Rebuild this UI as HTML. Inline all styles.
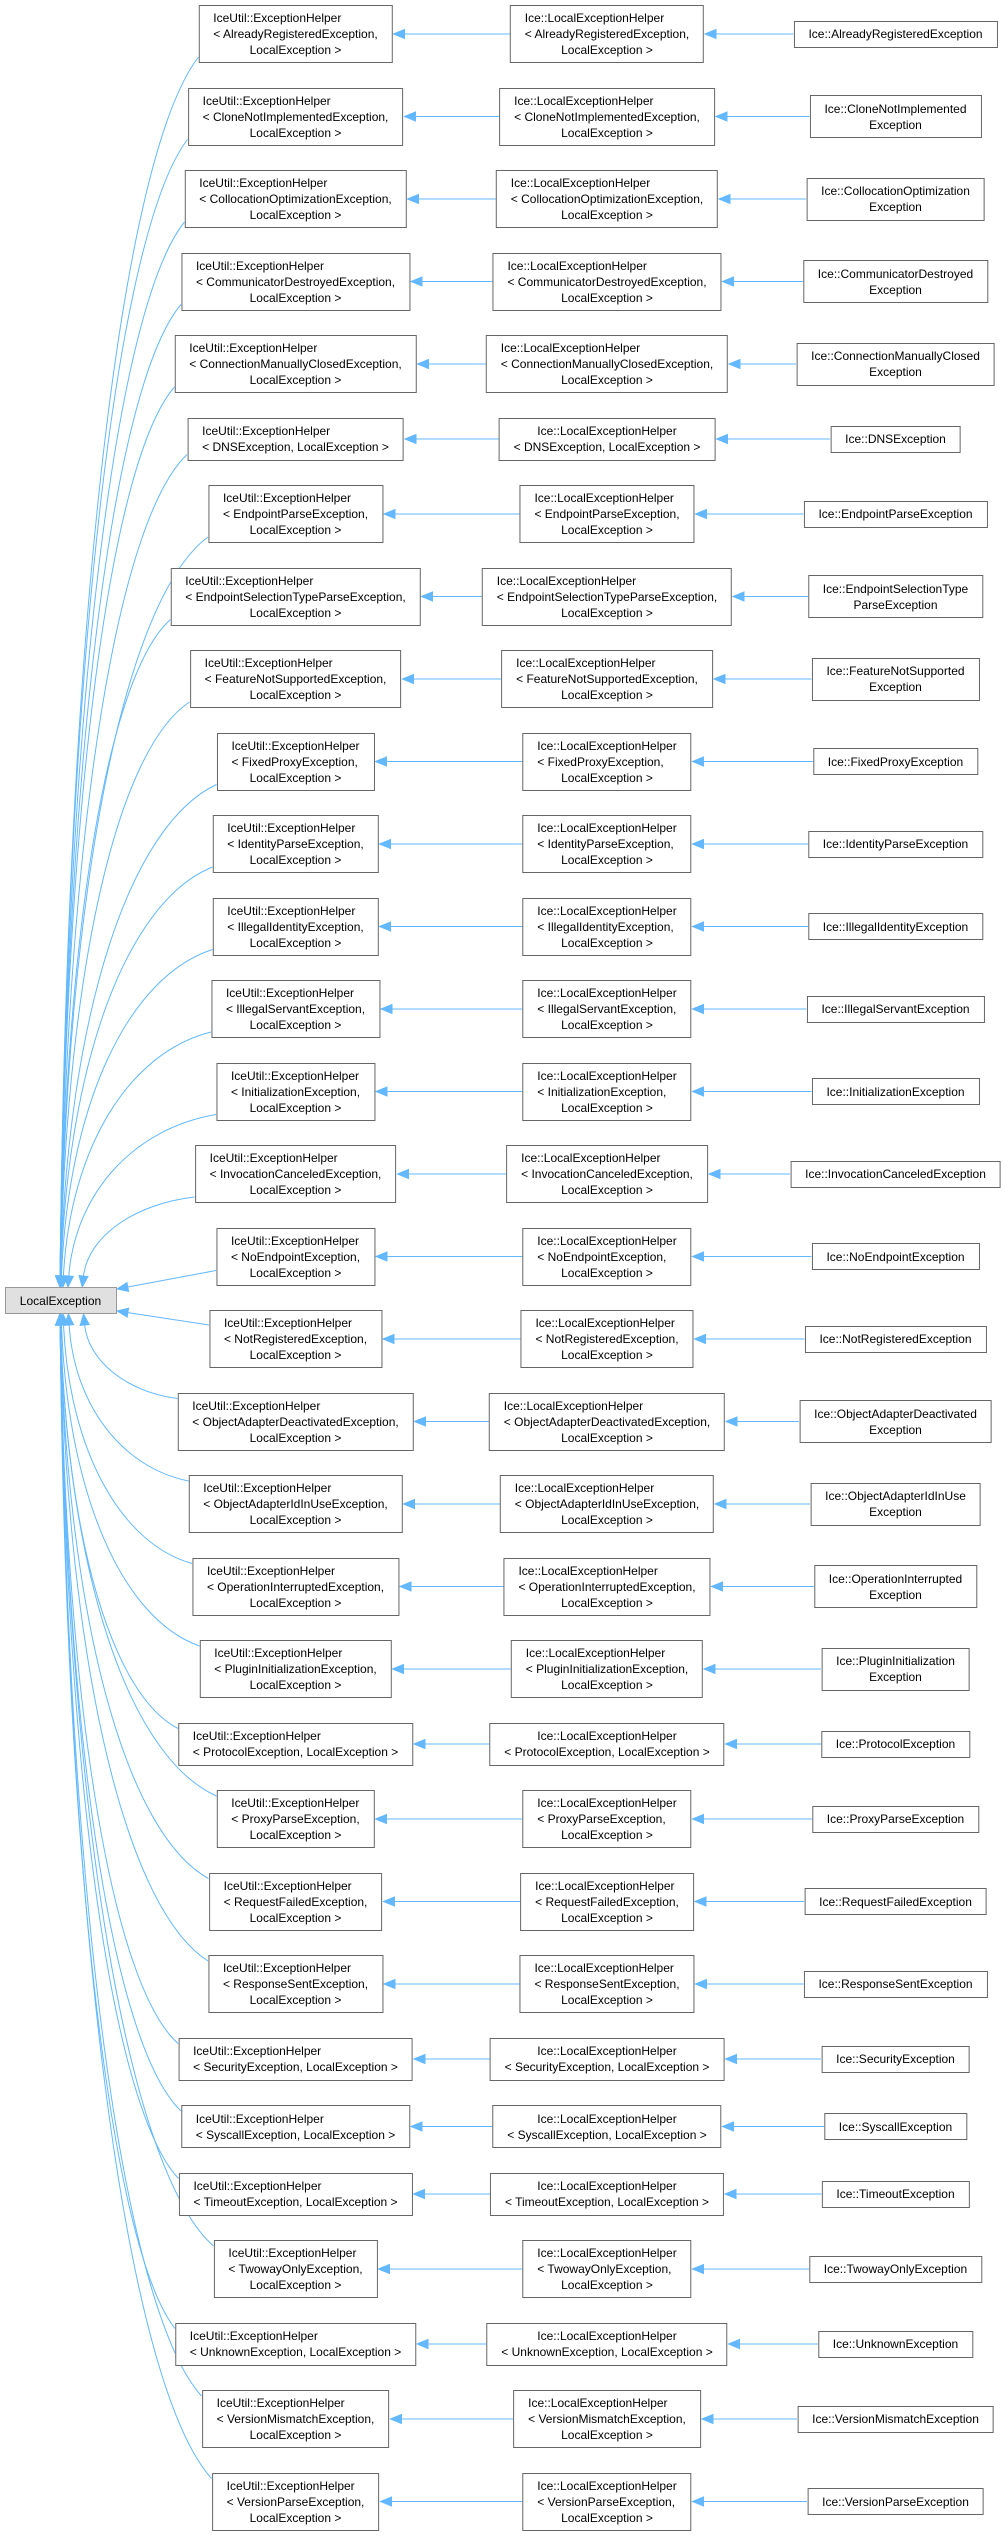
<!DOCTYPE html>
<html><head><meta charset="utf-8">
<style>
html,body{margin:0;padding:0;background:#fff;}
#wrap{position:relative;width:1005px;height:2536px;overflow:hidden;font-family:"Liberation Sans",Arial,sans-serif;font-size:12px;color:#000;}
.b{position:absolute;background:#fff;border:1px solid #666;box-sizing:border-box;padding:0 14px;white-space:nowrap;line-height:16px;transform:translateX(-50%);}
.b div{text-align:left;}
.b div.c{text-align:center;}
svg{position:absolute;left:0;top:0;}
</style></head><body>
<div id="wrap">
<svg id="s" width="1005" height="2536"></svg>
<div id="le" class="b" style="left:60.5px;top:1287px;height:27px;width:112px;background:#e0e0e0;border-color:#999;padding:5px 0 0 0;text-align:center;"><div class="c">LocalException</div></div>
</div>
<script>
var names=["AlreadyRegistered","CloneNotImplemented","CollocationOptimization","CommunicatorDestroyed","ConnectionManuallyClosed","DNS","EndpointParse","EndpointSelectionTypeParse","FeatureNotSupported","FixedProxy","IdentityParse","IllegalIdentity","IllegalServant","Initialization","InvocationCanceled","NoEndpoint","NotRegistered","ObjectAdapterDeactivated","ObjectAdapterIdInUse","OperationInterrupted","PluginInitialization","Protocol","ProxyParse","RequestFailed","ResponseSent","Security","Syscall","Timeout","TwowayOnly","Unknown","VersionMismatch","VersionParse"];
var two={"DNS":1,"Protocol":1,"Security":1,"Syscall":1,"Timeout":1,"Unknown":1};
var right={"CloneNotImplemented":["Ice::CloneNotImplemented","Exception"],"CollocationOptimization":["Ice::CollocationOptimization","Exception"],"CommunicatorDestroyed":["Ice::CommunicatorDestroyed","Exception"],"ConnectionManuallyClosed":["Ice::ConnectionManuallyClosed","Exception"],"EndpointSelectionTypeParse":["Ice::EndpointSelectionType","ParseException"],"FeatureNotSupported":["Ice::FeatureNotSupported","Exception"],"ObjectAdapterDeactivated":["Ice::ObjectAdapterDeactivated","Exception"],"ObjectAdapterIdInUse":["Ice::ObjectAdapterIdInUse","Exception"],"OperationInterrupted":["Ice::OperationInterrupted","Exception"],"PluginInitialization":["Ice::PluginInitialization","Exception"]};
var wrap=document.getElementById('wrap');var svg=document.getElementById('s');
var NS="http://www.w3.org/2000/svg";var COL="#63b8ff";
function box(cx,cy,lines,aligns){var d=document.createElement('div');d.className='b';
 var h=lines.length*16+(lines.length==1?11:(lines.length==2?11:10));
 d.style.left=cx+'px';d.style.top=(cy-h/2)+'px';d.style.height=h+'px';
 d.style.paddingTop=((h-lines.length*16)/2-1)+'px';
 for(var i=0;i<lines.length;i++){var t=document.createElement('div');t.textContent=lines[i];if(aligns[i]=='c')t.className='c';d.appendChild(t);}
 wrap.appendChild(d);var w=d.offsetWidth;return {x1:cx-w/2,x2:cx+w/2,y1:cy-h/2,y2:cy+h/2,cy:cy};}
function path(d){var p=document.createElementNS(NS,'path');p.setAttribute('d',d);p.setAttribute('fill','none');p.setAttribute('stroke',COL);p.setAttribute('stroke-width','1');svg.appendChild(p);}
function head(tx,ty,fx,fy){var dx=tx-fx,dy=ty-fy,l=Math.sqrt(dx*dx+dy*dy);dx/=l;dy/=l;var L=11,W=4.5;
 var bx=tx-dx*L,by=ty-dy*L;var p=document.createElementNS(NS,'polygon');
 p.setAttribute('points',tx+','+ty+' '+(bx-dy*W)+','+(by+dx*W)+' '+(bx+dy*W)+','+(by-dx*W));
 p.setAttribute('fill',COL);p.setAttribute('stroke',COL);svg.appendChild(p);return [bx,by];}
var y=34;
for(var i=0;i<names.length;i++){
 var n=names[i];
 if(i>0){var a=two[names[i-1]]?1:0,b=two[n]?1:0;y+=82.5-7.5*(a+b);}
 var L,M,R;
 if(two[n]){L=box(295.5,y,["IceUtil::ExceptionHelper","< "+n+"Exception, LocalException >"],['l','l']);
  M=box(607,y,["Ice::LocalExceptionHelper","< "+n+"Exception, LocalException >"],['c','c']);}
 else{L=box(295.5,y,["IceUtil::ExceptionHelper","< "+n+"Exception,","LocalException >"],['l','l','c']);
  M=box(607,y,["Ice::LocalExceptionHelper","< "+n+"Exception,","LocalException >"],['l','l','c']);}
 var rl=right[n]||["Ice::"+n+"Exception"];
 R=box(895.5,y,rl,['c','c']);
 var h1=head(L.x2+1,y,M.x1,y);path('M'+M.x1+','+y+'L'+h1[0]+','+y);
 var h2=head(M.x2+1,y,R.x1,y);path('M'+R.x1+','+y+'L'+h2[0]+','+y);
 var dy=y-1300,ad=Math.abs(dy);var sx,sy,tx,ty,c1x,c1y,c2x,c2y;
 if(ad<100){sx=L.x1;sy=y+(dy<0?14:-14);tx=117;ty=1300+(dy<0?-11:11);
  c1x=sx+(tx-sx)*0.33;c1y=sy+(ty-sy)*0.33;c2x=sx+(tx-sx)*0.66;c2y=sy+(ty-sy)*0.66;}
 else{sx=L.x1;sy=dy<0?L.y2-6:L.y1+6;ty=dy<0?1287:1314;
  tx=60+24*Math.exp(-(ad-120)/80);if(tx>84)tx=84;
  c1x=sx-(sx-tx)*0.55;c1y=sy+(ty-sy)*0.08;c2x=tx+(sx-tx)*0.05;c2y=ty-(ty-sy)*0.55;}
 var hh=head(tx,ty,c2x,c2y);
 path('M'+sx+','+sy+'C'+c1x+','+c1y+' '+c2x+','+c2y+' '+hh[0]+','+hh[1]);
}
</script>
</body></html>
